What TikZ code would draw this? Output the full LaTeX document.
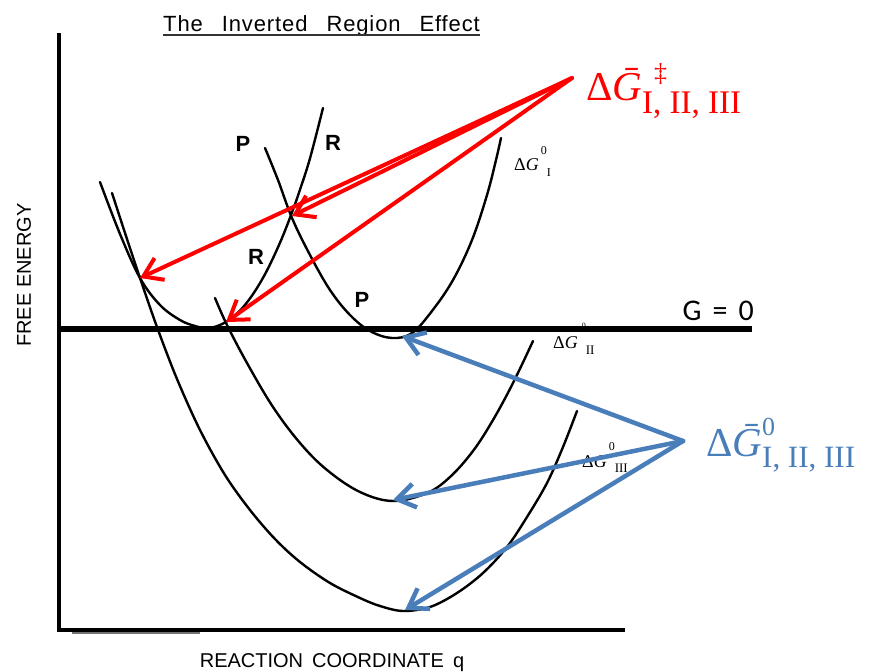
\documentclass[tikz,border=0pt]{standalone}
\usepackage{fontspec}
\setmainfont{Liberation Serif}
\setsansfont{Liberation Sans}
\newfontfamily\calibri{Carlito}
\newfontfamily\titlefont[LetterSpace=4]{Liberation Sans}
\usetikzlibrary{arrows.meta}
\definecolor{ared}{RGB}{255,0,0}
\definecolor{ablue}{RGB}{74,126,187}
\tikzset{
  curve/.style={line width=2.4pt, line join=round, line cap=round},
  axisline/.style={line width=4pt, line join=miter},
  zeroline/.style={line width=6pt},
  redarrow/.style={draw=ared, line width=4pt, line cap=round, -{Straight Barb[length=18pt,width=24pt]}},
  bluearrow/.style={draw=ablue, line width=4.5pt, line cap=round, -{Straight Barb[length=18pt,width=24pt]}},
  curvelabel/.style={font=\sffamily\bfseries\fontsize{22}{22}\selectfont, inner sep=0pt},
  dglabel/.style={inner sep=0pt, anchor=base west},
  axislabel/.style={font=\sffamily\fontsize{20}{20}\selectfont, inner sep=0pt},
}
\begin{document}
\begin{tikzpicture}[x=1pt,y=-1pt]
\useasboundingbox (0,0) rectangle (873,672);

% title
\node[inner sep=0pt, anchor=base west] (title) at (163,31)
  {\titlefont\fontsize{22}{22}\selectfont The\hspace{19pt}Inverted\hspace{19pt}Region\hspace{19pt}Effect};
\draw[line width=1.4pt, black!80] ([yshift=-4pt]title.base west) -- ([yshift=-4pt]title.base east);

% axes
\coordinate (ytop) at (59,33);
\coordinate (orig) at (59,630);
\coordinate (xend) at (625,630);
\draw[axisline] (ytop) -- (orig) -- (xend);
\coordinate (g1) at (72,633);
\coordinate (g2) at (200,633);
\draw[black!55, line width=1.3pt] (g1) -- (g2);

\node[axislabel, rotate=90] (ylab) at (24,275) {FREE ENERGY};
\node[axislabel, anchor=base] (xlab) at (332,667) {REACTION\hspace{9pt}COORDINATE\hspace{9pt}q};

% zero line
\coordinate (z0) at (59,329);
\coordinate (z1) at (752,329);
\draw[zeroline] (z0) -- (z1);
\node[inner sep=0pt, anchor=base east] (gzero) at (754,320) {\calibri\fontsize{30}{30}\selectfont G\hspace{11pt}=\hspace{11pt}0};

% curves
% R (reactant)
\draw[curve] plot[smooth, tension=0.6] coordinates {
  (100,182) (120,234) (140,278) (160,305) (180,320) (195,326) (207,328)
  (220,325) (235,315.5) (250,298.4) (265,274.2) (280,242.7) (292,212.4)
  (300,189.6) (310,158.3) (323,108)};
% P I
\draw[curve] plot[smooth, tension=0.6] coordinates {
  (265,148) (278,180) (292,218) (310,255) (330,290) (350,315) (370,331)
  (392,338) (412,333) (432,311) (453,280) (472,240) (487,195) (496,160) (501,138)};
% P II
\draw[curve] plot[smooth, tension=0.6] coordinates {
  (215,298) (227,325) (247,363) (273,407) (300,443) (327,470) (360,492)
  (393,501) (427,493) (450,477) (473,451) (493,420) (513,383) (533,341)};
% P III
\draw[curve] plot[smooth, tension=0.55] coordinates {
  (112,193) (126,236) (140,278) (157,327) (177,379) (200,430) (225,475)
  (250,510) (275,539) (300,562) (330,583) (360,598) (380,606) (403,611)
  (430,607) (457,593) (483,573) (507,547) (527,517) (547,483) (563,447) (577,411)};

% curve labels
\node[curvelabel] (lp1) at (243,144) {P};
\node[curvelabel] (lr1) at (333,143) {R};
\node[curvelabel] (lr2) at (256,257) {R};
\node[curvelabel] (lp2) at (362,300) {P};

% small Delta G labels
\node[dglabel] (dg1) at (514,170)
  {\fontsize{18}{18}\selectfont Δ\textit{G}\hspace{2pt}\raisebox{16pt}{\fontsize{12}{12}\selectfont 0}\raisebox{-6pt}{\fontsize{12}{12}\selectfont I}};
\node[dglabel] (dg2) at (553,348)
  {\fontsize{18}{18}\selectfont Δ\textit{G}\hspace{4pt}\raisebox{20pt}{\fontsize{8}{8}\selectfont 0}\raisebox{-6pt}{\fontsize{13}{13}\selectfont II}};
\node[dglabel] (dg3) at (582,467)
  {\fontsize{18}{18}\selectfont Δ\textit{G}\hspace{2pt}\raisebox{17pt}{\fontsize{12}{12}\selectfont 0}\raisebox{-5pt}{\fontsize{13}{13}\selectfont III}};

% big labels
\node[dglabel, text=ared] (redlab) at (586,100)
  {\fontsize{41}{41}\selectfont Δ\textit{\=G}\rlap{\hspace{12pt}\raisebox{19pt}{\fontsize{26}{26}\selectfont ‡}}\raisebox{-13pt}{\fontsize{33}{33}\selectfont I, II, III}};
\node[dglabel, text=ablue] (bluelab) at (706,456)
  {\fontsize{41}{41}\selectfont Δ\textit{\=G}\rlap{\raisebox{21pt}{\fontsize{26}{26}\selectfont 0}}\raisebox{-11pt}{\fontsize{31}{31}\selectfont I, II, III}};

% arrow targets
\coordinate (xR3) at (140,278);
\coordinate (xR1) at (292,216);
\coordinate (xR2) at (226,322);
\coordinate (m1) at (402,336);
\coordinate (m2) at (393,500);
\coordinate (m3) at (405,610);
\coordinate (rs) at (572,78);
\coordinate (bs) at (683,441);

\draw[redarrow] (rs) -- (xR3);
\draw[redarrow] (rs) -- (xR1);
\draw[redarrow] (rs) -- (xR2);
\draw[bluearrow] (bs) -- (m1);
\draw[bluearrow] (bs) -- (m2);
\draw[bluearrow] (bs) -- (m3);
\end{tikzpicture}
\end{document}
